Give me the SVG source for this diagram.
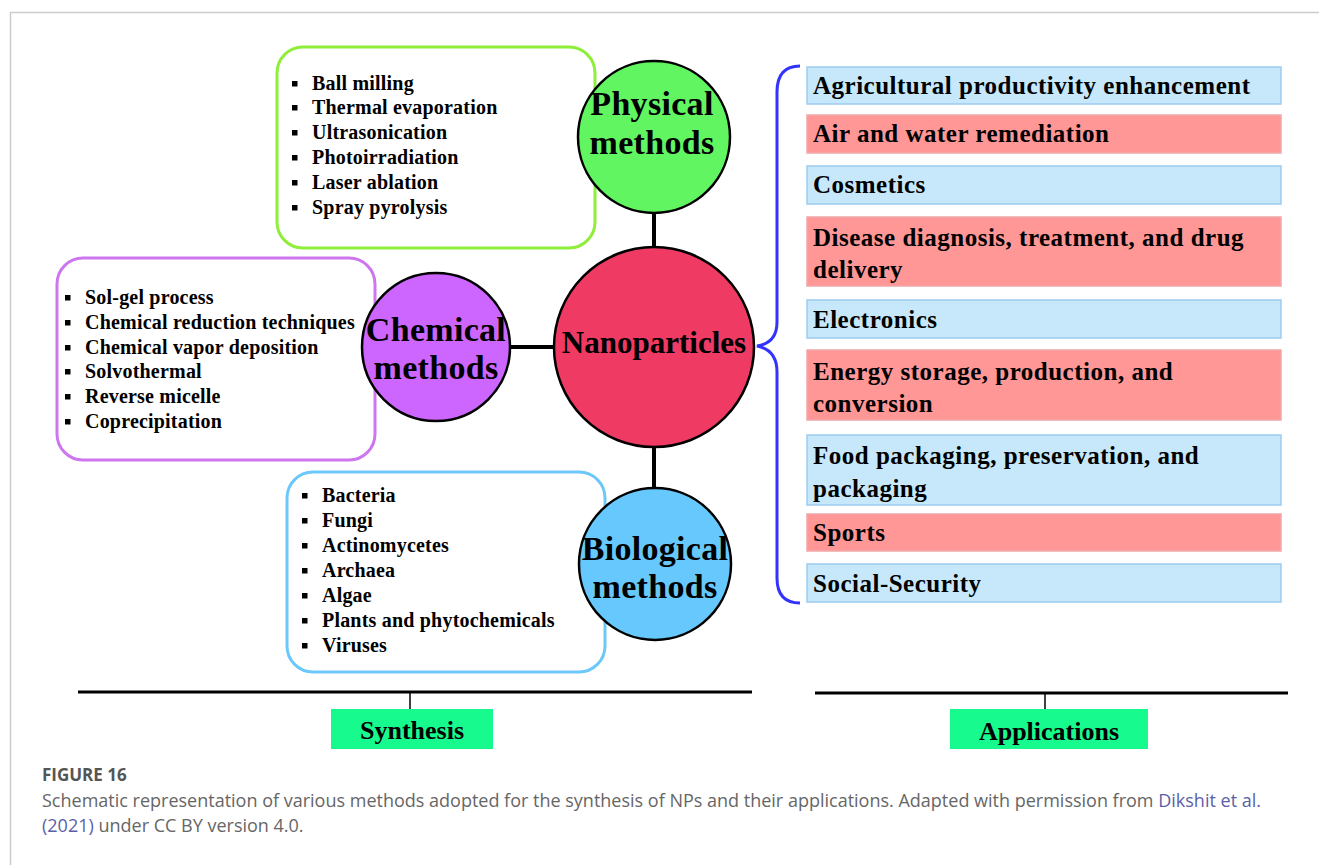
<svg xmlns="http://www.w3.org/2000/svg" width="1319" height="865" viewBox="0 0 1319 865">
<style>
.lst{font-family:"Liberation Serif","Times New Roman",serif;font-weight:bold;font-size:20px;letter-spacing:0.2px;fill:#000}
.cl{font-family:"Liberation Serif","Times New Roman",serif;font-weight:bold;font-size:34px;letter-spacing:0.3px;fill:#000;text-anchor:middle}
.np{font-size:31px;letter-spacing:0}
.app{font-family:"Liberation Serif","Times New Roman",serif;font-weight:bold;font-size:25px;letter-spacing:0.5px;fill:#000}
.lab{font-family:"Liberation Serif","Times New Roman",serif;font-weight:bold;font-size:26px;fill:#000;text-anchor:middle}
.circ{stroke:#000;stroke-width:2.5}
.blu{fill:#C6E8FA;stroke:#9CCBF0;stroke-width:1.5}
.red{fill:#FF9797;stroke:#F0A8A8;stroke-width:1.5}
.con{stroke:#000;stroke-width:4;fill:none}
.cap{font-family:"Open Sans","Noto Sans",sans-serif;font-size:18px;fill:#666}
.fig{font-weight:bold;font-size:17px;fill:#555}
.link{fill:#5B5FA8}
</style>
<defs>
<rect id="b" width="5.5" height="5.5" fill="#000"/>
</defs>
<rect x="0" y="0" width="1319" height="865" fill="#fff"/>
<path d="M10.5 865 V12.5 H1319" fill="none" stroke="#cccccc" stroke-width="1.5"/>

<g id="connectors">
<line class="con" x1="654" y1="212" x2="654" y2="248"/>
<line class="con" x1="654" y1="446" x2="654" y2="489"/>
<line class="con" x1="509" y1="347" x2="555" y2="347"/>
<path d="M800 66 Q777 66 777 92 V322 Q777 343 757 346 Q777 350 777 372 V578 Q777 603 800 603" fill="none" stroke="#3333FF" stroke-width="3"/>
<line x1="78" y1="692" x2="752" y2="692" stroke="#000" stroke-width="3"/>
<line x1="410" y1="692" x2="410" y2="710" stroke="#000" stroke-width="1.5"/>
<line x1="815" y1="693" x2="1288" y2="693" stroke="#000" stroke-width="3"/>
<line x1="1045" y1="693" x2="1045" y2="710" stroke="#000" stroke-width="1.5"/>
</g>

<g id="physical-list">
<rect x="277" y="47" width="318" height="201" rx="26" fill="#fff" stroke="#8EEE3A" stroke-width="3"/>
<use href="#b" x="292" y="81"/><text class="lst" x="312" y="90">Ball milling</text>
<use href="#b" x="292" y="105"/><text class="lst" x="312" y="114">Thermal evaporation</text>
<use href="#b" x="292" y="130"/><text class="lst" x="312" y="139">Ultrasonication</text>
<use href="#b" x="292" y="155"/><text class="lst" x="312" y="164">Photoirradiation</text>
<use href="#b" x="292" y="180"/><text class="lst" x="312" y="189">Laser ablation</text>
<use href="#b" x="292" y="205"/><text class="lst" x="312" y="214">Spray pyrolysis</text>
</g>

<g id="chemical-list">
<rect x="57" y="258" width="318" height="202" rx="26" fill="#fff" stroke="#CC77EE" stroke-width="3"/>
<use href="#b" x="65" y="295"/><text class="lst" x="85" y="304">Sol-gel process</text>
<use href="#b" x="65" y="320"/><text class="lst" x="85" y="329">Chemical reduction techniques</text>
<use href="#b" x="65" y="345"/><text class="lst" x="85" y="354">Chemical vapor deposition</text>
<use href="#b" x="65" y="369"/><text class="lst" x="85" y="378">Solvothermal</text>
<use href="#b" x="65" y="394"/><text class="lst" x="85" y="403">Reverse micelle</text>
<use href="#b" x="65" y="419"/><text class="lst" x="85" y="428">Coprecipitation</text>
</g>

<g id="biological-list">
<rect x="287" y="472" width="318" height="200" rx="26" fill="#fff" stroke="#6CC8FA" stroke-width="3"/>
<use href="#b" x="302" y="493"/><text class="lst" x="322" y="502">Bacteria</text>
<use href="#b" x="302" y="518"/><text class="lst" x="322" y="527">Fungi</text>
<use href="#b" x="302" y="543"/><text class="lst" x="322" y="552">Actinomycetes</text>
<use href="#b" x="302" y="568"/><text class="lst" x="322" y="577">Archaea</text>
<use href="#b" x="302" y="593"/><text class="lst" x="322" y="602">Algae</text>
<use href="#b" x="302" y="618"/><text class="lst" x="322" y="627">Plants and phytochemicals</text>
<use href="#b" x="302" y="643"/><text class="lst" x="322" y="652">Viruses</text>
</g>

<g id="physical">
<circle class="circ" cx="654" cy="137" r="76" fill="#62F562"/>
<text class="cl" x="652" y="115">Physical</text>
<text class="cl" x="652" y="154">methods</text>
</g>

<g id="chemical">
<circle class="circ" cx="436" cy="347" r="74" fill="#CC66FF"/>
<text class="cl" x="436" y="341">Chemical</text>
<text class="cl" x="436" y="379">methods</text>
</g>

<g id="nanoparticles">
<circle class="circ" cx="654" cy="347" r="100" fill="#EF3B64"/>
<text class="cl np" x="654" y="353">Nanoparticles</text>
</g>

<g id="biological">
<circle class="circ" cx="655" cy="564" r="76" fill="#66C8FC"/>
<text class="cl" x="655" y="560">Biological</text>
<text class="cl" x="655" y="598">methods</text>
</g>

<g id="app1"><rect class="blu" x="807" y="67" width="474" height="37"/><text class="app" x="813" y="94">Agricultural productivity enhancement</text></g>
<g id="app2"><rect class="red" x="807" y="115" width="474" height="38"/><text class="app" x="813" y="142">Air and water remediation</text></g>
<g id="app3"><rect class="blu" x="807" y="166" width="474" height="38"/><text class="app" x="813" y="193">Cosmetics</text></g>
<g id="app4"><rect class="red" x="807" y="217" width="474" height="69"/><text class="app" x="813" y="246">Disease diagnosis, treatment, and drug</text><text class="app" x="813" y="278">delivery</text></g>
<g id="app5"><rect class="blu" x="807" y="300" width="474" height="38"/><text class="app" x="813" y="328">Electronics</text></g>
<g id="app6"><rect class="red" x="807" y="350" width="474" height="70"/><text class="app" x="813" y="380">Energy storage, production, and</text><text class="app" x="813" y="412">conversion</text></g>
<g id="app7"><rect class="blu" x="807" y="435" width="474" height="70"/><text class="app" x="813" y="464">Food packaging, preservation, and</text><text class="app" x="813" y="497">packaging</text></g>
<g id="app8"><rect class="red" x="807" y="514" width="474" height="37"/><text class="app" x="813" y="541">Sports</text></g>
<g id="app9"><rect class="blu" x="807" y="564" width="474" height="38"/><text class="app" x="813" y="592">Social-Security</text></g>

<g id="synthesis">
<rect x="331" y="709" width="162" height="40" fill="#17FB8E"/>
<text class="lab" x="412" y="739">Synthesis</text>
</g>
<g id="applications">
<rect x="950" y="709" width="198" height="40" fill="#17FB8E"/>
<text class="lab" x="1049" y="740">Applications</text>
</g>

<g id="caption">
<text class="cap fig" x="42" y="781">FIGURE 16</text>
<text class="cap" x="42" y="807">Schematic representation of various methods adopted for the synthesis of NPs and their applications. Adapted with permission from <tspan class="link">Dikshit et al.</tspan></text>
<text class="cap" x="42" y="832"><tspan class="link">(2021)</tspan> under CC BY version 4.0.</text>
</g>
</svg>
